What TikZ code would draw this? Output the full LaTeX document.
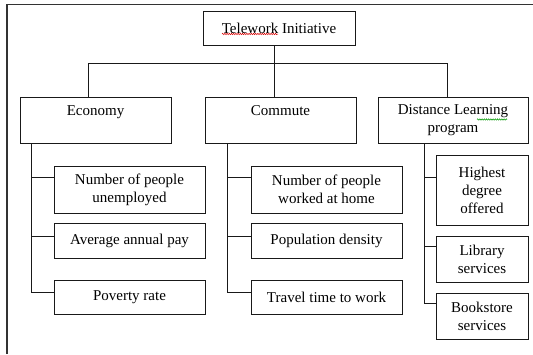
\documentclass[tikz,border=0pt]{standalone}
\usepackage{fontspec}
\setmainfont{Liberation Serif}
\usetikzlibrary{calc,decorations.pathmorphing}
\begin{document}
\begin{tikzpicture}[x=1pt,y=-1pt,
  box/.style={draw=black!90, line width=0.9pt, inner sep=0pt, align=center,
    font=\fontsize{15}{18}\selectfont, fill=white},
  link/.style={draw=black!90, line width=0.9pt},
  squig/.style={line width=0.5pt, decorate,
    decoration={snake, amplitude=0.7pt, segment length=2.2pt}}]
\useasboundingbox (0,0) rectangle (533,354);
\fill[white] (0,0) rectangle (533,354);
% frame
\draw[black!80, line width=1.3pt] (7,354) -- (7,4.5) -- (533,4.5);
% level 0 and 1
\node[box, minimum width=152pt, minimum height=34pt] (top) at (279,28) {Telework Initiative};
\node[box, minimum width=151pt, minimum height=46pt] (eco) at (95.5,120) {Economy\\\mbox{}};
\node[box, minimum width=151pt, minimum height=46pt] (com) at (280.5,120) {Commute\\\mbox{}};
\node[box, minimum width=150pt, minimum height=46pt] (dis) at (453,120) {Distance Learning\\program};
% economy children
\node[box, minimum width=151pt, minimum height=47pt] (e1) at (129.5,189.5) {Number of people\\unemployed};
\node[box, minimum width=151pt, minimum height=35pt] (e2) at (129.5,240.5) {Average annual pay};
\node[box, minimum width=151pt, minimum height=34pt] (e3) at (129.5,297.5) {Poverty rate};
% commute children
\node[box, minimum width=151pt, minimum height=47pt] (c1) at (326.5,189.5) {Number of people\\worked at home};
\node[box, minimum width=151pt, minimum height=35pt] (c2) at (326.5,240.5) {Population density};
\node[box, minimum width=151pt, minimum height=34pt] (c3) at (326.5,297.5) {Travel time to work};
% distance children
\node[box, minimum width=92pt, minimum height=70pt] (d1) at (482,190) {Highest\\degree\\offered};
\node[box, minimum width=92pt, minimum height=46pt] (d2) at (482,259) {Library\\services};
\node[box, minimum width=92pt, minimum height=46pt] (d3) at (482,316) {Bookstore\\services};
% top connectors
\coordinate (hub) at (274,63);
\coordinate (hl) at (88,63);
\coordinate (hr) at (447,63);
\draw[link] (top.south -| hub) -- (com.north -| hub);
\draw[link] (eco.north -| hl) -- (hl) -- (hr) -- (dis.north -| hr);
% spines
\coordinate (es) at (31,0);
\coordinate (cs) at (227,0);
\coordinate (ds) at (424,0);
\coordinate (e1c) at ($(e1.north west)+(0,12)$);
\coordinate (e2c) at ($(e2.north west)+(0,14)$);
\coordinate (e3c) at ($(e3.north west)+(0,12.5)$);
\coordinate (c1c) at ($(c1.north west)+(0,12)$);
\coordinate (c2c) at ($(c2.north west)+(0,14)$);
\coordinate (c3c) at ($(c3.north west)+(0,12.5)$);
\coordinate (d1c) at ($(d1.north west)+(0,23)$);
\coordinate (d2c) at ($(d2.north west)+(0,11)$);
\coordinate (d3c) at ($(d3.north west)+(0,11)$);
\draw[link] (eco.south -| es) |- (e3c);
\draw[link] (e1c -| es) -- (e1c);
\draw[link] (e2c -| es) -- (e2c);
\draw[link] (com.south -| cs) |- (c3c);
\draw[link] (c1c -| cs) -- (c1c);
\draw[link] (c2c -| cs) -- (c2c);
\draw[link] (dis.south -| ds) |- (d3c);
\draw[link] (d1c -| ds) -- (d1c);
\draw[link] (d2c -| ds) -- (d2c);
% spell-check squiggles
\draw[squig, red!85!black] (222,34) -- (278,34);
\draw[squig, green!60!black] (477,119.5) -- (507,119.5);
\end{tikzpicture}
\end{document}
